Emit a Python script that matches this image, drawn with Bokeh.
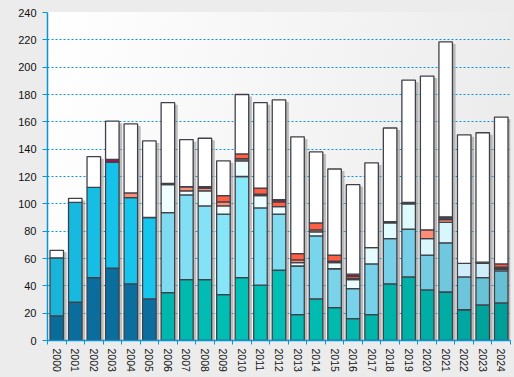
import numpy as np
from bokeh.plotting import figure
from bokeh.models import ColumnDataSource, Range1d, FixedTicker
from bokeh.embed import file_html
from bokeh.resources import INLINE

years = [str(y) for y in range(2000, 2025)]
dark_blue = [18, 28, 46, 53, 41.5, 30.5] + [0] * 19
cyan = [42.5, 73, 66, 77.5, 63, 59.5] + [0] * 19
teal = [0] * 6 + [35, 44.5, 44.5, 33.5, 46, 40.5, 51.5, 19, 30.5, 24, 16, 19, 41.5, 46.5, 37, 35.5, 22.5, 26, 27.5]
light_blue = [0] * 6 + [58.5, 62, 54, 59, 74, 56.5, 41, 35.5, 46, 28.5, 22, 37, 33, 35, 25.5, 36, 24, 20, 23.5]
very_light = [0] * 6 + [20.5, 3, 11, 6, 11.5, 9, 5.5, 2.5, 3, 4.5, 6.5, 12, 11.5, 18.5, 12, 15, 10, 10.5, 1]
salmon = [0, 0, 0, 0, 3.5, 0] + [0, 3, 2, 3, 1.5, 0, 0, 2, 1.5, 0, 1, 0, 0, 0, 6.5, 2, 0, 0, 1]
dark = [0] * 6 + [1, 0, 1, 0, 0, 1, 0, 0, 0, 1, 0, 0, 1, 1, 0, 2, 0, 0.8, 0.7]
orange = [0] * 6 + [0, 0, 0, 4.5, 3.5, 4.5, 3.5, 4.5, 5, 4.5, 1.5, 0, 0, 0, 0, 0, 0, 0, 2.3]
crimson = [0, 0, 0, 2, 0, 0] + [0, 0, 0, 0, 0, 0, 1.5, 0, 0, 0, 1.5, 0, 0, 0, 0, 0, 0, 0, 0]
white = [5.5, 3, 22.5, 28, 50.5, 56, 59, 34.5, 35.5, 25.5, 43.5, 62.5, 73, 85.5, 52, 63, 65.5, 62,
         68.5, 89.5, 112.5, 128, 94, 94.7, 107.5]
y_ticks = list(range(0, 241, 20))


def hx(c):
    return np.array([int(c[i:i + 2], 16) for i in (1, 3, 5)], dtype=float)


def ramp(anchors):
    out = []
    idx = [a[0] for a in anchors]
    cols = [hx(a[1]) for a in anchors]
    for i in range(len(years)):
        rgb = [np.interp(i, idx, [c[k] for c in cols]) for k in range(3)]
        out.append("#%02x%02x%02x" % tuple(int(round(v)) for v in rgb))
    return out


series = [
    (dark_blue, ramp([(0, "#0a6c9b"), (5, "#0a6f9f")])),
    (cyan, ramp([(0, "#19b4da"), (3, "#15c2ea"), (5, "#16c6ee")])),
    (teal, ramp([(6, "#00b7ae"), (10, "#00c1b6"), (16, "#00b8ad"), (21, "#00aca4"), (24, "#009e98")])),
    (light_blue, ramp([(6, "#80dbf1"), (10, "#88e9fb"), (13, "#7ad6ec"), (19, "#76cfe6"), (22, "#6cc5da"), (24, "#66bfd3")])),
    (very_light, ramp([(6, "#effeff"), (16, "#eafdff"), (19, "#ddfafd"), (21, "#d8f7fc"), (22, "#cfeefa"), (24, "#cdedf8")])),
    (salmon, ramp([(0, "#ff8c74"), (24, "#ff8c74")])),
    (dark, ramp([(0, "#4a4550"), (24, "#4a4550")])),
    (orange, ramp([(0, "#ff6445"), (24, "#ff5a40")])),
    (crimson, ramp([(0, "#a3124f"), (24, "#a3124f")])),
    (white, ramp([(0, "#ffffff"), (24, "#ffffff")])),
]

p = figure(width=514, height=377, output_backend="svg", toolbar_location=None,
           x_range=Range1d(-0.5, 24.5), y_range=Range1d(0, 240))
p.min_border_left = 47
p.min_border_right = 4
p.min_border_top = 12
p.min_border_bottom = 37
p.background_fill_alpha = 0
p.border_fill_alpha = 0
p.outline_line_color = None
p.stylesheets = [":host { background: linear-gradient(100deg, #ffffff 0%, #f4f4f4 55%, #eaeaea 100%) 47px 12px / 463px 328px no-repeat, #ececec; }"]

xs = np.arange(len(years))
totals = np.zeros(len(years))
for vals, _ in series:
    totals += np.array(vals, dtype=float)

shadow = ColumnDataSource(dict(x=xs + 0.17, top=totals - 1.5))
p.vbar(x="x", top="top", bottom=0, width=0.73, source=shadow,
       fill_color="#8c8c8c", fill_alpha=0.55, line_color=None)

bottom = np.zeros(len(years))
for vals, cols in series:
    v = np.array(vals, dtype=float)
    m = v > 0
    src = ColumnDataSource(dict(x=xs[m], bottom=bottom[m], top=(bottom + v)[m],
                                color=[c for c, k in zip(cols, m) if k]))
    p.vbar(x="x", bottom="bottom", top="top", width=0.73, source=src,
           fill_color="color", line_color="#404048", line_width=1.3)
    bottom = bottom + v

axis_blue = "#0a94d6"
p.xgrid.visible = False
p.ygrid.grid_line_color = axis_blue
p.ygrid.grid_line_dash = "2 2"
p.ygrid.grid_line_width = 1.2

p.yaxis.ticker = FixedTicker(ticks=y_ticks, minor_ticks=[])
p.yaxis.axis_line_color = axis_blue
p.yaxis.axis_line_width = 1.5
p.yaxis.major_tick_line_color = axis_blue
p.yaxis.major_tick_out = 5
p.yaxis.major_tick_in = 0
p.yaxis.major_label_standoff = 6
p.yaxis.major_label_text_font = "Liberation Sans"
p.yaxis.major_label_text_font_size = "11px"
p.yaxis.major_label_text_color = "#111111"

p.xaxis.ticker = FixedTicker(ticks=list(range(len(years))), minor_ticks=[i - 0.5 for i in range(len(years) + 1)])
p.xaxis.major_label_overrides = {i: years[i] for i in range(len(years))}
p.xaxis.major_label_orientation = "vertical"
p.xaxis.axis_line_color = axis_blue
p.xaxis.axis_line_width = 1.5
p.xaxis.major_tick_line_color = None
p.xaxis.major_tick_out = 0
p.xaxis.major_tick_in = 0
p.xaxis.minor_tick_line_color = axis_blue
p.xaxis.minor_tick_out = 4
p.xaxis.minor_tick_in = 0
p.xaxis.major_label_standoff = 4
p.xaxis.major_label_text_font = "Liberation Sans"
p.xaxis.major_label_text_font_size = "10.5px"
p.xaxis.major_label_text_color = "#111111"

open("out.html", "w").write(file_html(p, INLINE))
